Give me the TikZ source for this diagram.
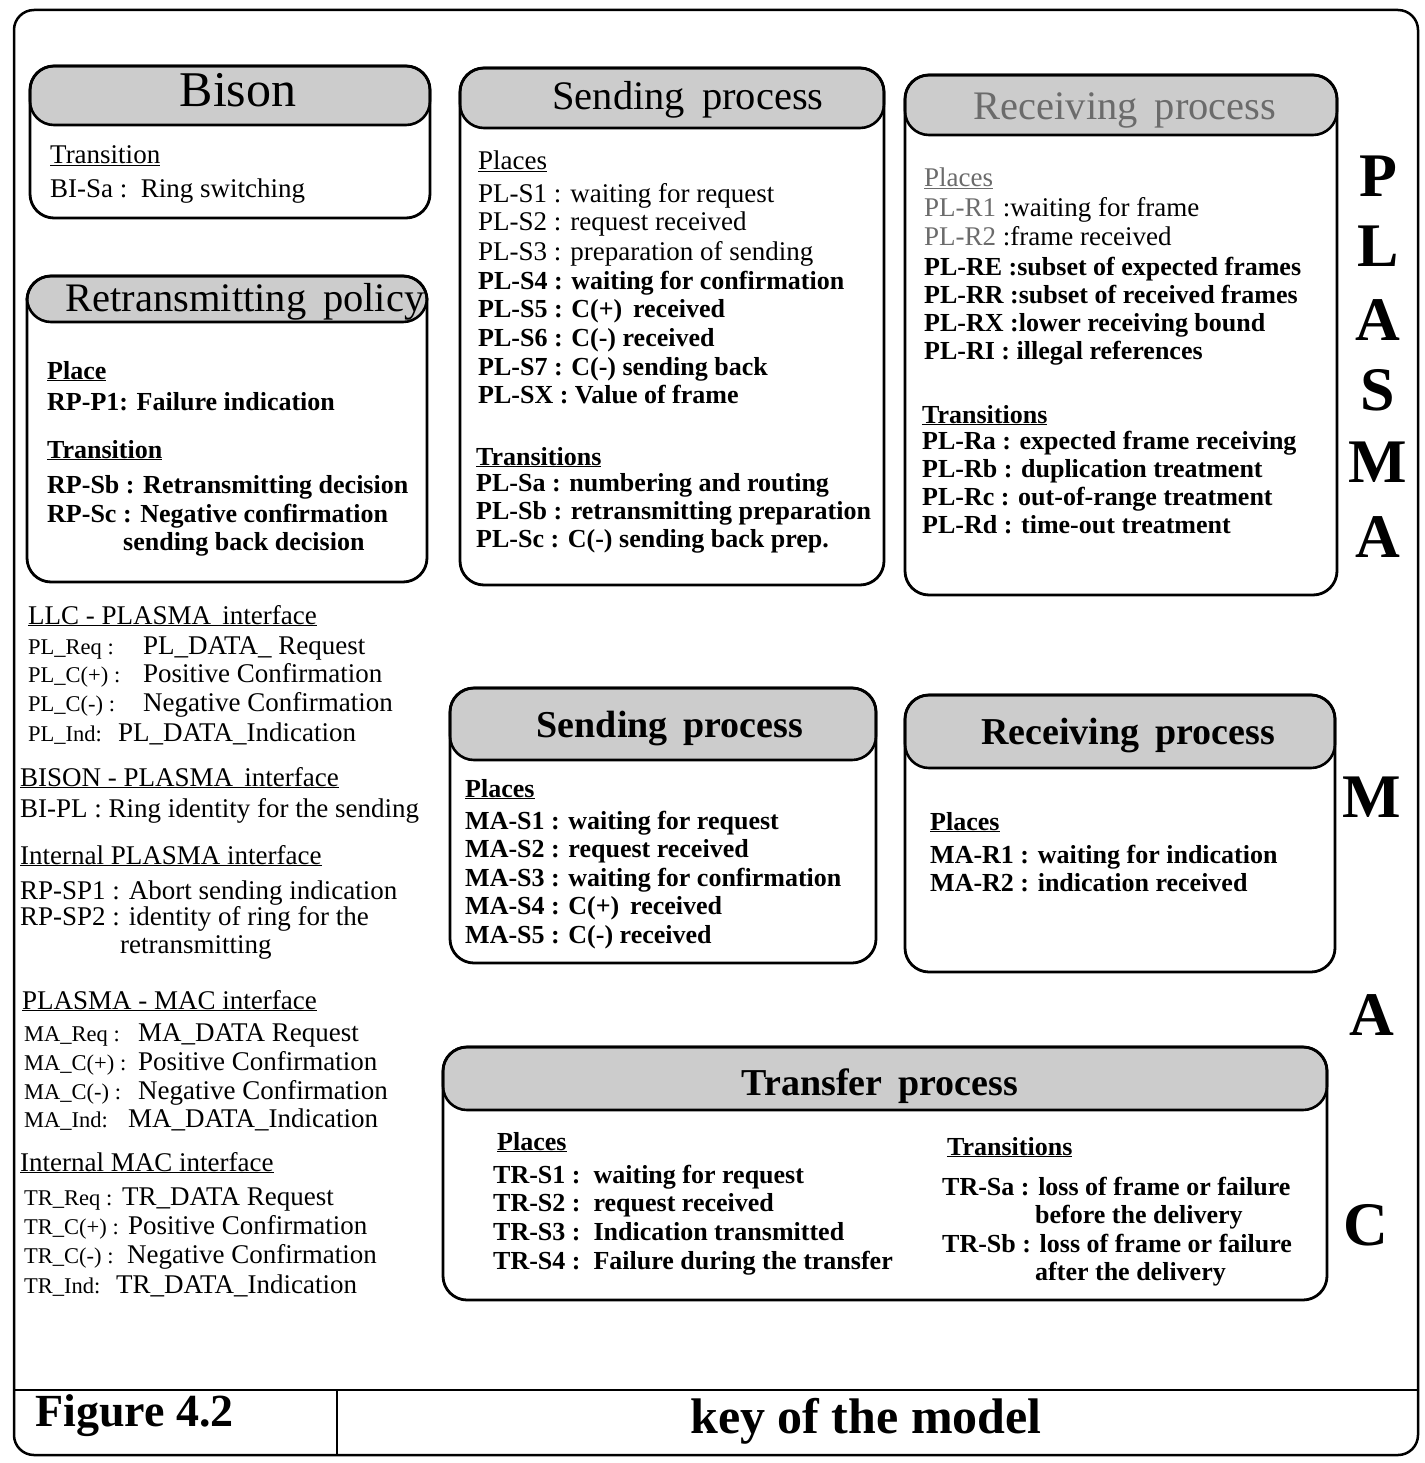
\documentclass[tikz,border=0pt]{standalone}
\usepackage{fontspec}
\setmainfont{Liberation Serif}
\definecolor{hdrfill}{gray}{0.8}
\definecolor{softtext}{gray}{0.42}
\tikzset{
 boxline/.style={draw=black, line width=2.8pt, rounded corners=24pt},
 hdr/.style={draw=black, line width=2.6pt, fill=hdrfill, rounded corners=24pt},
 txt/.style={anchor=base west, inner sep=0pt, font=\fontsize{27}{30}\selectfont},
 btxt/.style={anchor=base west, inner sep=0pt, font=\fontsize{26}{29}\selectfont\bfseries},
 small/.style={anchor=base west, inner sep=0pt, font=\fontsize{22.5}{26}\selectfont},
 ttl/.style={anchor=base, inner sep=0pt, font=\fontsize{40.5}{42}\selectfont},
 bttl/.style={anchor=base, inner sep=0pt, font=\fontsize{38}{40}\selectfont\bfseries},
 big/.style={inner sep=0pt, font=\fontsize{62}{62}\selectfont\bfseries},
}
\begin{document}
\begin{tikzpicture}[x=1pt,y=-1pt]
\useasboundingbox (0,0) rectangle (1424,1463);
% outer frame
\draw[line width=2.5pt, rounded corners=20pt] (14,10) rectangle (1418,1455);
\draw[line width=2.5pt] (14,1390) -- (1418,1390);
\draw[line width=1.5pt] (337,1390) -- (337,1455);
\node[anchor=base west, inner sep=0pt, font=\fontsize{46}{48}\selectfont\bfseries] (fig) at (35,1426) {Figure 4.2};
\node[anchor=base, inner sep=0pt, font=\fontsize{50}{52}\selectfont\bfseries] (key) at (866,1433) {key of the model};

% Bison
\draw[hdr] (30,66) rectangle (430,125);
\draw[boxline] (30,66) rectangle (430,218);
\node[ttl, font=\fontsize{50}{52}\selectfont] (bisonT) at (238,107) {Bison};
\node[txt] (bi1) at (50,164) {\underline{Transition}};
\node[txt] (bi2) at (50,198) {BI-Sa :\, Ring switching};

% Retransmitting policy
\draw[hdr] (27,276) rectangle (427,322);
\draw[boxline] (27,276) rectangle (427,582);
\node[ttl] (rpT) at (245,311) {Retransmitting\, policy};
\node[btxt] (rp1) at (47,379) {\underline{Place}};
\node[btxt] (rp2) at (47,410) {RP-P1: Failure indication};
\node[btxt] (rp3) at (47,458) {\underline{Transition}};
\node[btxt] (rp4) at (47,493) {RP-Sb : Retransmitting decision};
\node[btxt] (rp5) at (47,522) {RP-Sc : Negative confirmation};
\node[btxt] (rp6) at (123,550) {sending back decision};

% Sending process (PLASMA)
\draw[hdr] (460,68) rectangle (884,128);
\draw[boxline] (460,68) rectangle (884,585);
\node[ttl] (spT) at (688,110) {Sending\, process};
\node[txt] (sp0) at (478,170) {\underline{Places}};
\node[txt] (sp1) at (478,203) {PL-S1 : waiting for request};
\node[txt] (sp2) at (478,231) {PL-S2 : request received};
\node[txt] (sp3) at (478,260) {PL-S3 : preparation of sending};
\node[btxt] (sp4) at (478,289) {PL-S4 : waiting for confirmation};
\node[btxt] (sp5) at (478,317) {PL-S5 : C(+)\, received};
\node[btxt] (sp6) at (478,346) {PL-S6 : C(-) received};
\node[btxt] (sp7) at (478,375) {PL-S7 : C(-) sending back};
\node[btxt] (spx) at (478,403) {PL-SX : Value of frame};
\node[btxt] (spt) at (476,465) {\underline{Transitions}};
\node[btxt] (spa) at (476,491) {PL-Sa : numbering and routing};
\node[btxt] (spb) at (476,519) {PL-Sb : retransmitting preparation};
\node[btxt] (spc) at (476,547) {PL-Sc : C(-) sending back prep.};

% Receiving process (PLASMA)
\draw[hdr] (905,75) rectangle (1337,135);
\draw[boxline] (905,75) rectangle (1337,595);
\node[ttl, text=softtext] (rpr) at (1125,120) {Receiving\, process};
\node[txt, text=softtext] (rr0) at (924,187) {\underline{Places}};
\node[txt] (rr1) at (924,217) {\textcolor{softtext}{PL-R1} :waiting for frame};
\node[txt] (rr2) at (924,245) {\textcolor{softtext}{PL-R2} :frame received};
\node[btxt] (rr3) at (924,275) {PL-RE :subset of expected frames};
\node[btxt] (rr4) at (924,303) {PL-RR :subset of received frames};
\node[btxt] (rr5) at (924,331) {PL-RX :lower receiving bound};
\node[btxt] (rr6) at (924,359) {PL-RI : illegal references};
\node[btxt] (rrt) at (922,423) {\underline{Transitions}};
\node[btxt] (rra) at (922,449) {PL-Ra : expected frame receiving};
\node[btxt] (rrb) at (922,477) {PL-Rb : duplication treatment};
\node[btxt] (rrc) at (922,505) {PL-Rc : out-of-range treatment};
\node[btxt] (rrd) at (922,533) {PL-Rd : time-out treatment};

% PLASMA letters
\node[big] (lP) at (1378,176) {P};
\node[big] (lL) at (1378,246) {L};
\node[big] (lA) at (1378,320) {A};
\node[big] (lS) at (1378,390) {S};
\node[big] (lM) at (1378,462) {M};
\node[big] (lA2) at (1378,537) {A};

% MAC letters
\node[big] (mM) at (1372,797) {M};
\node[big] (mA) at (1372,1015) {A};
\node[big] (mC) at (1366,1225) {C};

% Sending process (MAC)
\draw[hdr] (450,688) rectangle (876,760);
\draw[boxline] (450,688) rectangle (876,963);
\node[bttl] (msT) at (670,737) {Sending\, process};
\node[btxt] (ms0) at (465,797) {\underline{Places}};
\node[btxt] (ms1) at (465,829) {MA-S1 : waiting for request};
\node[btxt] (ms2) at (465,857) {MA-S2 : request received};
\node[btxt] (ms3) at (465,886) {MA-S3 : waiting for confirmation};
\node[btxt] (ms4) at (465,914) {MA-S4 : C(+)\, received};
\node[btxt] (ms5) at (465,943) {MA-S5 : C(-) received};

% Receiving process (MAC)
\draw[hdr] (905,695) rectangle (1335,768);
\draw[boxline] (905,695) rectangle (1335,972);
\node[bttl] (mrT) at (1128,744) {Receiving\, process};
\node[btxt] (mr0) at (930,830) {\underline{Places}};
\node[btxt] (mr1) at (930,863) {MA-R1 : waiting for indication};
\node[btxt] (mr2) at (930,891) {MA-R2 : indication received};

% Transfer process
\draw[hdr] (443,1047) rectangle (1327,1110);
\draw[boxline] (443,1047) rectangle (1327,1300);
\node[bttl] (trT) at (880,1095) {Transfer\, process};
\node[btxt] (tr0) at (497,1150) {\underline{Places}};
\node[btxt] (tr1) at (493,1183) {TR-S1 :\, waiting for request};
\node[btxt] (tr2) at (493,1211) {TR-S2 :\, request received};
\node[btxt] (tr3) at (493,1240) {TR-S3 :\, Indication transmitted};
\node[btxt] (tr4) at (493,1269) {TR-S4 :\, Failure during the transfer};
\node[btxt] (trt) at (947,1155) {\underline{Transitions}};
\node[btxt] (tra) at (942,1195) {TR-Sa : loss of frame or failure};
\node[btxt] (tra2) at (1035,1223) {before the delivery};
\node[btxt] (trb) at (942,1252) {TR-Sb : loss of frame or failure};
\node[btxt] (trb2) at (1035,1280) {after the delivery};

% LLC - PLASMA interface
\node[txt] (llc) at (28,624) {\underline{LLC - PLASMA\, interface}};
\node[small] (llc1) at (28,654) {PL\_Req :};
\node[txt] (llc1v) at (143,654) {PL\_DATA\_ Request};
\node[small] (llc2) at (28,682) {PL\_C(+) :};
\node[txt] (llc2v) at (143,682) {Positive Confirmation};
\node[small] (llc3) at (28,711) {PL\_C(-) :};
\node[txt] (llc3v) at (143,711) {Negative Confirmation};
\node[small] (llc4) at (28,741) {PL\_Ind:};
\node[txt] (llc4v) at (118,741) {PL\_DATA\_Indication};

% BISON - PLASMA interface
\node[txt] (bis) at (20,786) {\underline{BISON - PLASMA\, interface}};
\node[txt] (bis1) at (20,817) {BI-PL : Ring identity for the sending};

% Internal PLASMA interface
\node[txt] (ipl) at (20,864) {\underline{Internal PLASMA interface}};
\node[txt] (ipl1) at (20,899) {RP-SP1 : Abort sending indication};
\node[txt] (ipl2) at (20,925) {RP-SP2 : identity of ring for the};
\node[txt] (ipl3) at (120,953) {retransmitting};

% PLASMA - MAC interface
\node[txt] (pm) at (22,1009) {\underline{PLASMA - MAC interface}};
\node[small] (pm1) at (24,1041) {MA\_Req :};
\node[txt] (pm1v) at (138,1041) {MA\_DATA Request};
\node[small] (pm2) at (24,1070) {MA\_C(+) :};
\node[txt] (pm2v) at (138,1070) {Positive Confirmation};
\node[small] (pm3) at (24,1099) {MA\_C(-) :};
\node[txt] (pm3v) at (138,1099) {Negative Confirmation};
\node[small] (pm4) at (24,1127) {MA\_Ind:};
\node[txt] (pm4v) at (128,1127) {MA\_DATA\_Indication};

% Internal MAC interface
\node[txt] (im) at (20,1171) {\underline{Internal MAC interface}};
\node[small] (im1) at (24,1205) {TR\_Req :};
\node[txt] (im1v) at (122,1205) {TR\_DATA Request};
\node[small] (im2) at (24,1234) {TR\_C(+) :};
\node[txt] (im2v) at (128,1234) {Positive Confirmation};
\node[small] (im3) at (24,1263) {TR\_C(-) :};
\node[txt] (im3v) at (127,1263) {Negative Confirmation};
\node[small] (im4) at (24,1293) {TR\_Ind:};
\node[txt] (im4v) at (116,1293) {TR\_DATA\_Indication};
\end{tikzpicture}
\end{document}
